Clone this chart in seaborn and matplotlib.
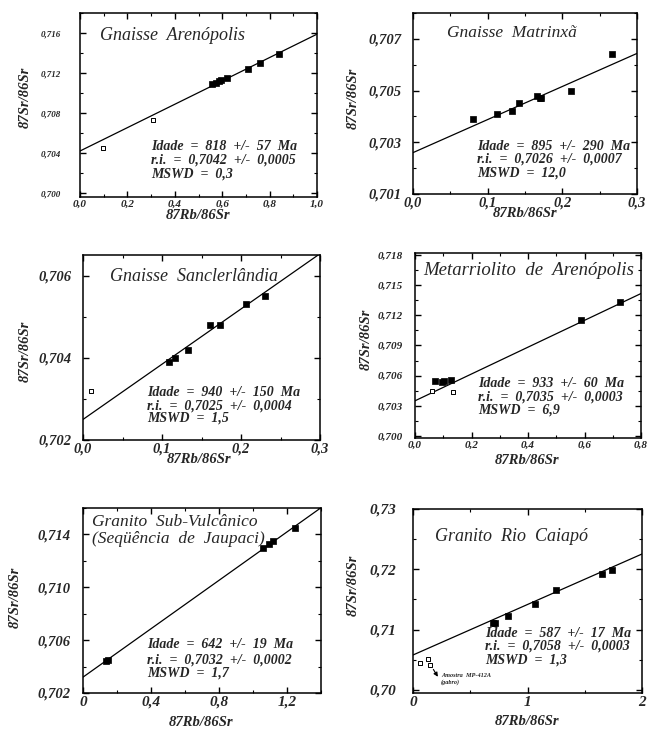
import numpy as np
import pandas as pd
import matplotlib.pyplot as plt
import seaborn as sns
from matplotlib.ticker import MultipleLocator, FuncFormatter

sns.set_theme(style="ticks")
plt.rcParams['font.family'] = ['Liberation Serif', 'DejaVu Serif']
plt.rcParams['xtick.direction'] = 'in'
plt.rcParams['ytick.direction'] = 'in'
plt.rcParams['xtick.top'] = True
plt.rcParams['ytick.right'] = True

LAMBDA_RB = 1.42e-11  # constante de decaimento do 87Rb (1/ano)

# ---- Gnaisse Arenópolis ----
aren_rb = [0.099, 0.307, 0.556, 0.575, 0.585, 0.595, 0.620, 0.707, 0.760, 0.838]
aren_sr = [0.7045, 0.7073, 0.7109, 0.7110, 0.7112, 0.7113, 0.7115, 0.7124, 0.7130, 0.7139]
aren_aberto = [True, True, False, False, False, False, False, False, False, False]
aren_idade, aren_ri = 818, 0.7042
aren_txt = ["Idade  =  818  +/-  57  Ma", "r.i.  =  0,7042  +/-  0,0005", "MSWD  =  0,3"]

# ---- Gnaisse Matrinxã ----
matr_rb = [0.080, 0.112, 0.132, 0.142, 0.166, 0.170, 0.172, 0.212, 0.266]
matr_sr = [0.7039, 0.7041, 0.7042, 0.7045, 0.7048, 0.7047, 0.7047, 0.7050, 0.7064]
matr_aberto = [False] * 9
matr_idade, matr_ri = 895, 0.7026
matr_txt = ["Idade  =  895  +/-  290  Ma", "r.i.  =  0,7026  +/-  0,0007", "MSWD  =  12,0"]

# ---- Gnaisse Sanclerlândia ----
sanc_rb = [0.010, 0.109, 0.116, 0.133, 0.161, 0.174, 0.206, 0.231]
sanc_sr = [0.7032, 0.7039, 0.7040, 0.7042, 0.7048, 0.7048, 0.7053, 0.7055]
sanc_aberto = [True, False, False, False, False, False, False, False]
sanc_idade, sanc_ri = 940, 0.7025
sanc_txt = ["Idade  =  940  +/-  150  Ma", "r.i.  =  0,7025  +/-  0,0004", "MSWD  =  1,5"]

# ---- Metarriolito de Arenópolis ----
meta_rb = [0.059, 0.071, 0.095, 0.101, 0.127, 0.134, 0.587, 0.725]
meta_sr = [0.7045, 0.7055, 0.7054, 0.7055, 0.7056, 0.7044, 0.7115, 0.7133]
meta_aberto = [True, False, False, False, False, True, False, False]
meta_idade, meta_ri = 933, 0.7035
meta_txt = ["Idade  =  933  +/-  60  Ma", "r.i.  =  0,7035  +/-  0,0003", "MSWD  =  6,9"]

# ---- Granito Sub-Vulcânico (Seqüência de Jaupaci) ----
jaup_rb = [0.135, 0.145, 1.057, 1.093, 1.116, 1.249]
jaup_sr = [0.7044, 0.7045, 0.7130, 0.7133, 0.7135, 0.7145]
jaup_aberto = [False] * 6
jaup_idade, jaup_ri = 642, 0.7032
jaup_txt = ["Idade  =  642  +/-  19  Ma", "r.i.  =  0,7032  +/-  0,0002", "MSWD  =  1,7"]

# ---- Granito Rio Caiapó ----
caia_rb = [0.058, 0.129, 0.152, 0.700, 0.720, 0.833, 1.067, 1.249, 1.649, 1.740]
caia_sr = [0.7044, 0.7051, 0.7042, 0.7111, 0.7111, 0.7123, 0.7142, 0.7166, 0.7192, 0.7199]
caia_aberto = [True, True, True, False, False, False, False, False, False, False]
caia_idade, caia_ri = 587, 0.7058
caia_txt = ["Idade  =  587  +/-  17  Ma", "r.i.  =  0,7058  +/-  0,0003", "MSWD  =  1,3"]

fig = plt.figure(figsize=(6.47, 7.31), dpi=100)


def fmt(dec, zero_int=False):
    def f(v, p):
        if zero_int and abs(v) < 1e-9:
            return "0"
        return f"{v:.{dec}f}".replace(".", ",")
    return FuncFormatter(f)


def painel(caixa, rb, sr, aberto, idade, ri, titulo, stats,
           xlim, ylim, xt, yt, xdec, ydec, tpos, spos, ylab_pos, xlab_pos,
           fs_x=10.5, fs_y=10.5, ypad=8, xzero=False, fs_tit=13, fs_st=10, yoff=0.0):
    l, t, r, b = caixa
    ax = fig.add_axes([l / 647, 1 - b / 731, (r - l) / 647, (b - t) / 731])
    df = pd.DataFrame({"rb": rb, "sr": sr, "aberto": aberto})

    # reta da isócrona a partir da idade e razão inicial
    ax.axline((0, ri), slope=np.expm1(LAMBDA_RB * idade * 1e6), color="black", lw=0.9)

    sns.scatterplot(data=df[~df["aberto"]], x="rb", y="sr", ax=ax, marker="s",
                    s=14, color="black", edgecolor="black", linewidth=0.5, zorder=3)
    sns.scatterplot(data=df[df["aberto"]], x="rb", y="sr", ax=ax, marker="s",
                    s=10, facecolor="white", edgecolor="black", linewidth=0.7, zorder=3)

    ax.set_xlim(*xlim)
    ax.set_ylim(*ylim)
    ax.xaxis.set_major_locator(MultipleLocator(xt[0]))
    ax.xaxis.set_minor_locator(MultipleLocator(xt[1]))
    ax.yaxis.set_major_locator(MultipleLocator(yt[0], offset=yoff))
    ax.yaxis.set_minor_locator(MultipleLocator(yt[1], offset=yoff))
    ax.xaxis.set_major_formatter(fmt(xdec, xzero))
    ax.yaxis.set_major_formatter(fmt(ydec))
    ax.tick_params(which="major", length=4, width=1.0, color="black")
    ax.tick_params(which="minor", length=2.5, width=0.8, color="black")
    ax.tick_params(axis="x", labelsize=fs_x, pad=2)
    ax.tick_params(axis="y", labelsize=fs_y, pad=ypad)
    for lab in ax.get_xticklabels() + ax.get_yticklabels():
        lab.set_fontweight("bold")
        lab.set_fontstyle("italic")
    for sp in ax.spines.values():
        sp.set_linewidth(1.1)
        sp.set_color("black")

    ax.set_xlabel("87Rb/86Sr", fontsize=10.5, fontweight="bold", fontstyle="italic")
    ax.set_ylabel("87Sr/86Sr", fontsize=10.5, fontweight="bold", fontstyle="italic")
    ax.xaxis.set_label_coords(*xlab_pos)
    ax.yaxis.set_label_coords(*ylab_pos)
    ax.xaxis.label.set_va("center")
    ax.yaxis.label.set_va("center")

    ax.text(tpos[0], tpos[1], titulo, transform=ax.transAxes, fontsize=fs_tit,
            fontstyle="italic", va="center", ha="left", linespacing=1.1)
    for i, linha in enumerate(stats):
        ax.text(spos[0], spos[1][i], linha, transform=ax.transAxes, fontsize=fs_st,
                fontstyle="italic", fontweight="bold", va="center", ha="left")
    return ax


painel((80, 13, 317, 197), aren_rb, aren_sr, aren_aberto, aren_idade, aren_ri,
       "Gnaisse  Arenópolis", aren_txt,
       (0, 1.0), (0.6996, 0.718), (0.2, 0.1), (0.004, 0.002), 1, 3,
       (0.085, 0.875), (0.30, (0.277, 0.201, 0.125)), (-0.232, 0.54), (0.5, -0.10),
       fs_x=8, fs_y=6.5, ypad=14)

painel((413, 13, 637, 194), matr_rb, matr_sr, matr_aberto, matr_idade, matr_ri,
       "Gnaisse  Matrinxã", matr_txt,
       (0, 0.3), (0.701, 0.708), (0.1, 0.05), (0.002, 0.001), 1, 3,
       (0.15, 0.89), (0.285, (0.265, 0.193, 0.116)), (-0.268, 0.53), (0.5, -0.105),
       ypad=8, yoff=0.001, fs_tit=12.5)

painel((83, 255, 320, 440), sanc_rb, sanc_sr, sanc_aberto, sanc_idade, sanc_ri,
       "Gnaisse  Sanclerlândia", sanc_txt,
       (0, 0.3), (0.702, 0.7065), (0.1, 0.05), (0.002, 0.001), 1, 3,
       (0.114, 0.883), (0.27, (0.258, 0.185, 0.117)), (-0.245, 0.477), (0.49, -0.108),
       ypad=8)

painel((415, 253, 641, 438), meta_rb, meta_sr, meta_aberto, meta_idade, meta_ri,
       "Metarriolito  de  Arenópolis", meta_txt,
       (0, 0.8), (0.6998, 0.7182), (0.2, 0.1), (0.003, 0.0015), 1, 3,
       (0.035, 0.903), (0.28, (0.292, 0.223, 0.151)), (-0.214, 0.535), (0.494, -0.119),
       fs_x=8, fs_y=8, ypad=9, yoff=0.001, fs_tit=13.5)

painel((83, 508, 321, 693), jaup_rb, jaup_sr, jaup_aberto, jaup_idade, jaup_ri,
       "Granito  Sub-Vulcânico\n(Seqüência  de  Jaupaci)", jaup_txt,
       (0, 1.4), (0.702, 0.716), (0.4, 0.2), (0.004, 0.002), 1, 3,
       (0.038, 0.88), (0.269, (0.261, 0.180, 0.108)), (-0.284, 0.515), (0.494, -0.16),
       ypad=9, xzero=True, fs_x=11, yoff=0.002, fs_tit=12.5)

ax6 = painel((413, 509, 642, 693), caia_rb, caia_sr, caia_aberto, caia_idade, caia_ri,
             "Granito  Rio  Caiapó", caia_txt,
             (0, 2.0), (0.6995, 0.73), (1, 0.5), (0.01, 0.005), 0, 2,
             (0.097, 0.848), (0.316, (0.322, 0.253, 0.181)), (-0.261, 0.584), (0.498, -0.154),
             ypad=12, fs_x=11, fs_y=11)

ax6.annotate("", xy=(0.23, 0.7018), xytext=(0.165, 0.7038),
             arrowprops=dict(arrowstyle="-|>", color="black", lw=0.8, mutation_scale=6))
ax6.text(0.245, 0.7018, "Amostra  MP-412A\n(gabro)", fontsize=4.5, fontweight="bold",
         fontstyle="italic", va="center", ha="left", linespacing=1.2)

fig.savefig("out.png", dpi=100, facecolor="white")
